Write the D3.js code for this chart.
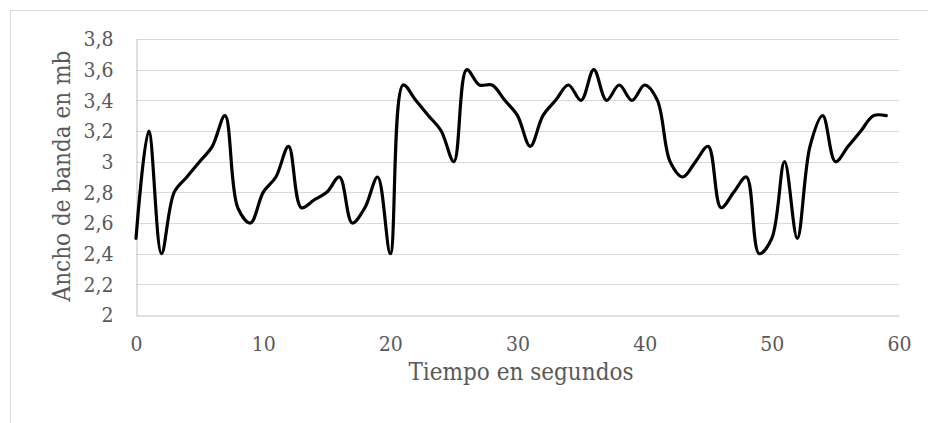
<!DOCTYPE html>
<html>
<head>
<meta charset="utf-8">
<script src="https://cdn.jsdelivr.net/npm/d3@7"></script>
<style>
html,body{margin:0;padding:0;background:#fff;}
svg{display:block;}
</style>
</head>
<body>
<svg id="chart" width="928" height="423"></svg>
<script>
const seconds = d3.range(0, 60);
const bandwidth = [
  2.5, 3.2, 2.4, 2.8, 2.9, 3.0, 3.1, 3.3, 2.7, 2.6,
  2.8, 2.9, 3.1, 2.7, 2.75, 2.8, 2.9, 2.6, 2.7, 2.9,
  2.4, 3.5, 3.4, 3.3, 3.2, 3.0, 3.6, 3.5, 3.5, 3.4,
  3.3, 3.1, 3.3, 3.4, 3.5, 3.4, 3.6, 3.4, 3.5, 3.4,
  3.5, 3.4, 3.0, 2.9, 3.0, 3.1, 2.7, 2.8, 2.9, 2.4,
  2.5, 3.0, 2.5, 3.1, 3.3, 3.0, 3.1, 3.2, 3.3, 3.3
];
const xTicks = [0, 10, 20, 30, 40, 50, 60];
const yTicks = [2, 2.2, 2.4, 2.6, 2.8, 3, 3.2, 3.4, 3.6, 3.8];
const xTitle = "Tiempo en segundos";
const yTitle = "Ancho de banda en mb";

(function () {
const svg = d3.select("#chart");
const FONT = "'DejaVu Serif Condensed', 'DejaVu Serif', serif";
const pl = 136, pr = 899, pt = 39, pb = 315;

const x = d3.scaleLinear().domain([0, 60]).range([pl, pr]);
const y = d3.scaleLinear().domain([2, 3.8]).range([pb, pt]);

svg.append("path")
  .attr("d", `M10.5,423 V10.5 H928`)
  .attr("fill", "none").attr("stroke", "#d9d9d9").attr("stroke-width", 1);

svg.append("g").selectAll("line").data(yTicks.slice(1)).join("line")
  .attr("x1", pl).attr("x2", pr)
  .attr("y1", d => Math.round(y(d)) + 0.5).attr("y2", d => Math.round(y(d)) + 0.5)
  .attr("stroke", "#d9d9d9").attr("stroke-width", 1);

const fmt = d => String(d).replace(".", ",");
const yAxis = svg.append("g").attr("transform", `translate(${pl + 0.5},0)`)
  .call(d3.axisLeft(y).tickValues(yTicks).tickFormat(fmt).tickSize(0).tickPadding(23));
const xAxis = svg.append("g").attr("transform", `translate(0,${pb + 0.5})`)
  .call(d3.axisBottom(x).tickValues(xTicks).tickSize(0).tickPadding(21));
[yAxis, xAxis].forEach(g => {
  g.select(".domain").attr("stroke", "#bfbfbf").attr("stroke-width", 1);
  g.selectAll("text").attr("fill", "#595959").style("font-family", FONT).style("font-size", "21px");
});

svg.append("text").text(xTitle)
  .attr("x", 521).attr("y", 380)
  .attr("text-anchor", "middle").attr("fill", "#595959")
  .style("font-family", FONT).style("font-size", "24px");
svg.append("text").text(yTitle)
  .attr("transform", `translate(70,176) rotate(-90)`)
  .attr("text-anchor", "middle").attr("fill", "#595959")
  .style("font-family", FONT).style("font-size", "24px");

const line = d3.line()
  .x((d, i) => x(seconds[i]))
  .y(d => y(d))
  .curve(d3.curveCatmullRom.alpha(0.5));
svg.append("path").datum(bandwidth)
  .attr("d", line)
  .attr("fill", "none").attr("stroke", "#000").attr("stroke-width", 3.2)
  .attr("stroke-linejoin", "round").attr("stroke-linecap", "round");
})();
</script>
</body>
</html>
